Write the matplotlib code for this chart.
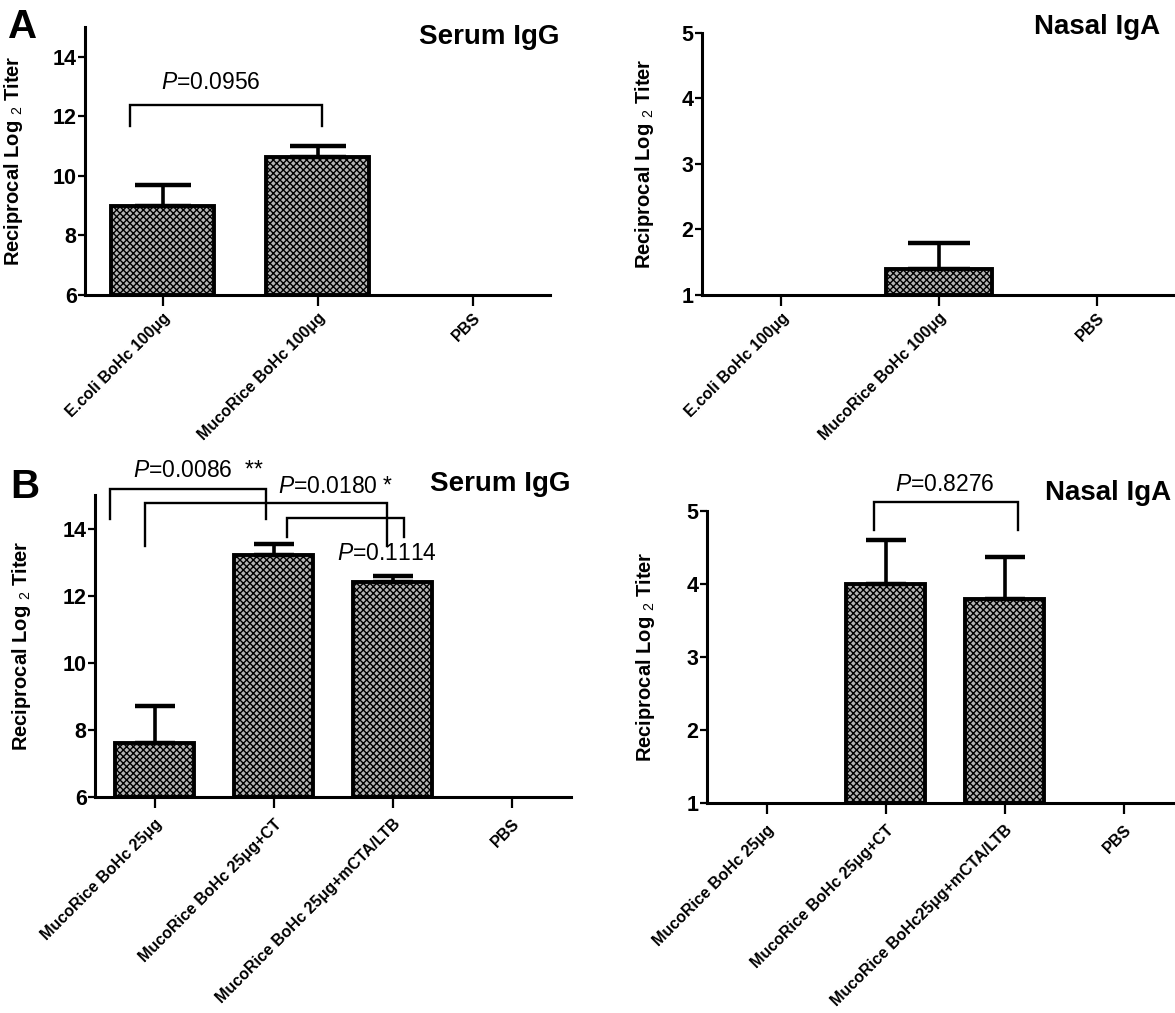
"""Serum IgG / nasal IgA titers after MucoRice BoHc immunisation (panels A and B)."""

import numpy as np
import matplotlib

matplotlib.use("Agg")
import matplotlib.pyplot as plt

plt.rcParams["font.family"] = ["Liberation Sans", "DejaVu Sans"]
plt.rcParams["mathtext.fontset"] = "custom"
plt.rcParams["mathtext.rm"] = "Liberation Sans"
plt.rcParams["mathtext.it"] = "Liberation Sans:italic"
plt.rcParams["mathtext.bf"] = "Liberation Sans:bold"
plt.rcParams["hatch.linewidth"] = 1.0

W, H, DPI = 1175, 1013, 100

# ---- data -------------------------------------------------------------
groups_a = ["E.coli BoHc 100μg", "MucoRice BoHc 100μg", "PBS"]
serum_a = [9.0, 10.65, np.nan]
serum_a_err = [0.7, 0.35, np.nan]
nasal_a = [np.nan, 1.4, np.nan]
nasal_a_err = [np.nan, 0.4, np.nan]

groups_b_serum = ["MucoRice BoHc 25μg", "MucoRice BoHc 25μg+CT",
                  "MucoRice BoHc 25μg+mCTA/LTB", "PBS"]
groups_b_nasal = ["MucoRice BoHc 25μg", "MucoRice BoHc 25μg+CT",
                  "MucoRice BoHc25μg+mCTA/LTB", "PBS"]
serum_b = [7.6, 13.2, 12.4, np.nan]
serum_b_err = [1.1, 0.35, 0.2, np.nan]
nasal_b = [np.nan, 4.0, 3.8, np.nan]
nasal_b_err = [np.nan, 0.6, 0.57, np.nan]

p_labels_a_serum = ["$P$=0.0956"]
p_labels_b_serum = ["$P$=0.0086  **", "$P$=0.0180 *", "$P$=0.1114"]
p_labels_b_nasal = ["$P$=0.8276"]

YLABEL = r"Reciprocal Log $_{2}$ Titer"

# ---- layout (pixels in the 1175x1013 canvas) --------------------------
# left, top, right, bottom of each plot area
BOX_A_SERUM = (85, 27, 550, 295)
BOX_A_NASAL = (702, 33, 1176, 295)
BOX_B_SERUM = (95, 495, 571, 797)
BOX_B_NASAL = (707, 511, 1183, 803)

# bracket = (x_left, x_right, y_top, y_leg_left, y_leg_right), data coords
BRACKETS_A_SERUM = [(-0.21, 1.03, 12.39, 11.68, 11.68)]
PTEXT_A_SERUM = [(0.31, 13.13)]
BRACKETS_B_SERUM = [(-0.37, 0.94, 15.17, 14.27, 14.27),
                    (-0.08, 1.95, 14.75, 13.47, 13.47),
                    (1.11, 2.10, 14.30, 13.74, 13.74)]
PTEXT_B_SERUM = [(0.37, 15.73), (1.52, 15.26), (1.95, 13.26)]
BRACKETS_B_NASAL = [(0.90, 2.11, 5.12, 4.74, 4.74)]
PTEXT_B_NASAL = [(1.50, 5.36)]


def add_box(fig, box):
    left, top, right, bottom = box
    return fig.add_axes([left / W, 1 - bottom / H, (right - left) / W, (bottom - top) / H])


def draw_panel(ax, box, labels, values, errors, ylim, yticks, capsize,
               ylabel_px, xpad, brackets=(), ptexts=(), plabels=()):
    n = len(labels)
    x = np.arange(n)
    vals = np.asarray(values, dtype=float)
    errs = np.asarray(errors, dtype=float)
    base = ylim[0]
    ok = np.isfinite(vals)

    ax.bar(x[ok], vals[ok] - base, bottom=base, width=0.67,
           facecolor="#b4b4b4", edgecolor="black", linewidth=2.8,
           hatch="xxxxx", zorder=2)
    ax.errorbar(x[ok], vals[ok], yerr=[np.zeros(ok.sum()), errs[ok]],
                fmt="none", ecolor="black", elinewidth=2.6,
                capsize=capsize, capthick=3.2, zorder=3)

    ax.set_xlim(-0.5, n - 0.5)
    ax.set_ylim(*ylim)
    ax.set_yticks(yticks, labels=[str(t) for t in yticks],
                  fontsize=15.5, fontweight="bold")
    ax.set_xticks(x, labels=labels, rotation=45, ha="right", va="top",
                  rotation_mode="anchor", fontsize=11.5, fontweight="bold")

    for side in ("top", "right"):
        ax.spines[side].set_visible(False)
    for side in ("left", "bottom"):
        ax.spines[side].set_linewidth(2.2)
    ax.tick_params(axis="y", direction="out", length=5, width=1.6, pad=1)
    ax.tick_params(axis="x", direction="out", length=8, width=1.6, pad=xpad)
    ax.set_facecolor("none")

    ax.set_ylabel(YLABEL, fontsize=14.5, fontweight="bold")
    left, _, right, _ = box
    ax.yaxis.set_label_coords((ylabel_px - left) / (right - left), 0.5)

    for (x0, x1, yt, yl, yr) in brackets:
        ax.plot([x0, x0, x1, x1], [yl, yt, yt, yr], color="black",
                linewidth=1.7, clip_on=False, solid_joinstyle="miter", zorder=4)
    for (tx, ty), txt in zip(ptexts, plabels):
        ax.text(tx, ty, txt, ha="center", va="center", fontsize=16.5,
                clip_on=False)


def fig_text(fig, x_px, y_px, s, size, ha="left"):
    fig.text(x_px / W, 1 - y_px / H, s, fontsize=size, fontweight="bold",
             ha=ha, va="center")


def main():
    fig = plt.figure(figsize=(W / DPI, H / DPI), dpi=DPI)

    ax = add_box(fig, BOX_A_SERUM)
    draw_panel(ax, BOX_A_SERUM, groups_a, serum_a, serum_a_err, (6, 15),
               [6, 8, 10, 12, 14], 20, 25, 3,
               BRACKETS_A_SERUM, PTEXT_A_SERUM, p_labels_a_serum)

    ax = add_box(fig, BOX_A_NASAL)
    draw_panel(ax, BOX_A_NASAL, groups_a, nasal_a, nasal_a_err, (1, 5),
               [1, 2, 3, 4, 5], 22, 656, 3)

    ax = add_box(fig, BOX_B_SERUM)
    draw_panel(ax, BOX_B_SERUM, groups_b_serum, serum_b, serum_b_err, (6, 15),
               [6, 8, 10, 12, 14], 14.5, 33, 6,
               BRACKETS_B_SERUM, PTEXT_B_SERUM, p_labels_b_serum)

    ax = add_box(fig, BOX_B_NASAL)
    draw_panel(ax, BOX_B_NASAL, groups_b_nasal, nasal_b, nasal_b_err, (1, 5),
               [1, 2, 3, 4, 5], 14.5, 657, 6,
               BRACKETS_B_NASAL, PTEXT_B_NASAL, p_labels_b_nasal)

    fig_text(fig, 419, 37, "Serum IgG", 20)
    fig_text(fig, 1034, 27, "Nasal IgA", 20)
    fig_text(fig, 430, 484, "Serum IgG", 20)
    fig_text(fig, 1045, 493, "Nasal IgA", 20)
    fig_text(fig, 8, 27, "A", 29)
    fig_text(fig, 10, 487, "B", 29)

    fig.savefig("out.png", dpi=DPI)
    plt.close(fig)


if __name__ == "__main__":
    main()
